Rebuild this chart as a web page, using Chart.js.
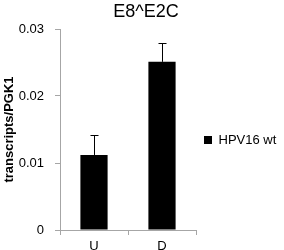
<!DOCTYPE html>
<html>
<head>
<meta charset="utf-8">
<script src="https://cdn.jsdelivr.net/npm/chart.js@4"></script>
<style>
  html, body { margin: 0; padding: 0; background: #fff; }
  #wrap { width: 284px; height: 250px; }
</style>
</head>
<body>
<div id="wrap"><canvas id="chart" width="284" height="250"></canvas></div>
<script>
////// data //////
const categories = ['U', 'D'];
const seriesName = 'HPV16 wt';
const values = [0.0112, 0.0251];
const errors = [0.0030, 0.0028];
const yTicks = [0, 0.01, 0.02, 0.03];

const FONT = "'Liberation Sans', Arial, sans-serif";
const AXIS_GRAY = '#a6a6a6';

// upward-only error bars with a small cap
const errorBars = {
    id: 'errorBars',
    afterDatasetsDraw(chart) {
        const ctx = chart.ctx;
        const y = chart.scales.y;
        const meta = chart.getDatasetMeta(0);
        ctx.save();
        ctx.strokeStyle = '#000';
        ctx.lineWidth = 1;
        meta.data.forEach((bar, i) => {
            const top = Math.round(y.getPixelForValue(values[i] + errors[i])) + 0.5;
            const x = Math.round(bar.x) + 0.5;
            ctx.beginPath();
            ctx.moveTo(x, bar.y);
            ctx.lineTo(x, top);
            ctx.moveTo(x - 4, top);
            ctx.lineTo(x + 4, top);
            ctx.stroke();
        });
        ctx.restore();
    }
};

new Chart(document.getElementById('chart'), {
    type: 'bar',
    data: {
        labels: categories,
        datasets: [{
            label: seriesName,
            data: values,
            backgroundColor: '#000',
            borderWidth: 0,
            barPercentage: 0.4,
            categoryPercentage: 1.0
        }]
    },
    options: {
        responsive: false,
        animation: false,
        layout: { padding: { left: 8, right: 0, top: 0, bottom: 0 } },
        plugins: {
            title: {
                display: true,
                text: 'E8^E2C',
                color: '#000',
                font: { family: FONT, size: 18, weight: 'normal' },
                padding: { top: 1, bottom: 6.4 }
            },
            legend: {
                position: 'right',
                maxWidth: 88,
                title: { display: true, text: '', font: { size: 13 }, padding: { top: 0, bottom: 14.4 } },
                labels: {
                    boxWidth: 8,
                    boxHeight: 8,
                    color: '#000',
                    font: { family: FONT, size: 13 },
                    padding: 8
                }
            },
            tooltip: { enabled: false }
        },
        scales: {
            x: {
                afterFit(axis) {
                    axis.height = 20;
                },
                grid: {
                    offset: true,
                    drawOnChartArea: false,
                    drawTicks: true,
                    tickLength: 5,
                    color: AXIS_GRAY
                },
                border: { display: true, color: AXIS_GRAY },
                ticks: { color: '#000', font: { family: FONT, size: 13 }, padding: 3.5 }
            },
            y: {
                min: 0,
                max: 0.03,
                afterBuildTicks(axis) {
                    axis.ticks = yTicks.map(v => ({ value: v }));
                },
                afterFit(axis) {
                    axis.width = 52;
                },
                grid: {
                    drawOnChartArea: false,
                    drawTicks: true,
                    tickLength: 5,
                    color: AXIS_GRAY
                },
                border: { display: true, color: AXIS_GRAY },
                ticks: {
                    color: '#000',
                    font: { family: FONT, size: 13 },
                    padding: 11,
                    callback: v => (v === 0 ? '0' : v.toFixed(2))
                },
                title: {
                    display: true,
                    text: 'transcripts/PGK1',
                    color: '#000',
                    font: { family: FONT, size: 13, weight: 'bold' },
                    padding: { top: -6, bottom: 0 }
                }
            }
        }
    },
    plugins: [errorBars]
});
</script>
</body>
</html>
